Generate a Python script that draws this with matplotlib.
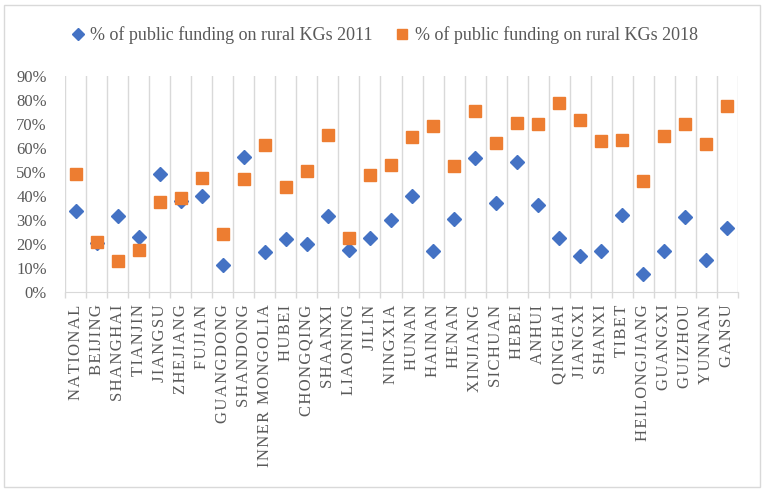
import matplotlib
matplotlib.use('Agg')
import matplotlib.pyplot as plt
from matplotlib.patches import Rectangle
from matplotlib.ticker import FixedLocator, FuncFormatter

regions = ['NATIONAL', 'BEIJING', 'SHANGHAI', 'TIANJIN', 'JIANGSU', 'ZHEJIANG',
           'FUJIAN', 'GUANGDONG', 'SHANDONG', 'INNER MONGOLIA', 'HUBEI',
           'CHONGQING', 'SHAANXI', 'LIAONING', 'JILIN', 'NINGXIA', 'HUNAN',
           'HAINAN', 'HENAN', 'XINJIANG', 'SICHUAN', 'HEBEI', 'ANHUI', 'QINGHAI',
           'JIANGXI', 'SHANXI', 'TIBET', 'HEILONGJIANG', 'GUANGXI', 'GUIZHOU',
           'YUNNAN', 'GANSU']
share_2011 = [33.8, 20.3, 31.8, 22.8, 49.0, 38.1, 40.0, 11.4, 56.4, 16.6, 22.2,
              20.1, 31.8, 17.4, 22.3, 29.8, 40.0, 16.9, 30.6, 55.9, 37.0, 54.1,
              36.4, 22.7, 14.8, 16.9, 32.0, 7.5, 16.9, 31.2, 13.2, 26.7]
share_2018 = [49.3, 21.0, 12.9, 17.4, 37.7, 39.0, 47.6, 24.1, 47.2, 61.2, 43.9,
              50.3, 65.6, 22.3, 48.6, 53.0, 64.4, 69.2, 52.6, 75.5, 62.2, 70.3,
              69.8, 78.9, 71.7, 63.0, 63.4, 46.2, 64.9, 69.8, 61.5, 77.3]

blue = '#4472C4'
orange = '#ED7D31'
grey_txt = '#595959'
grid_col = '#D9D9D9'
font = ['Liberation Serif', 'DejaVu Serif']

plt.rcParams['font.family'] = font

fig = plt.figure(figsize=(7.65, 4.94), dpi=100)
ax = fig.add_axes([65 / 765, 1 - 292 / 494, 673 / 765, 216 / 494])

x = list(range(len(regions)))
ax.plot(x, share_2011, linestyle='none', marker='D', ms=7.5, color=blue,
        label='% of public funding on rural KGs 2011', zorder=3)
ax.plot(x, share_2018, linestyle='none', marker='s', ms=8.5, color=orange,
        label='% of public funding on rural KGs 2018', zorder=3)

ax.set_xlim(-0.5, len(regions) - 0.5)
ax.set_ylim(0, 90)
ax.set_yticks(range(0, 91, 10))
ax.yaxis.set_major_formatter(FuncFormatter(lambda v, p: f'{int(v)}%'))
ax.tick_params(axis='y', length=0, labelsize=12, labelcolor=grey_txt, pad=13)

ax.set_xticks(x)
spaced = ['\u200a'.join(r) for r in regions]
ax.set_xticklabels(spaced, rotation=90, fontsize=12, color=grey_txt)
ax.tick_params(axis='x', which='major', length=0, pad=9)
bounds = [i - 0.5 for i in range(len(regions) + 1)]
ax.xaxis.set_minor_locator(FixedLocator(bounds))
ax.tick_params(axis='x', which='minor', length=4, color=grid_col, width=1)
ax.grid(axis='x', which='minor', color=grid_col, linewidth=1)

for s in ['top', 'right', 'left']:
    ax.spines[s].set_visible(False)
ax.spines['bottom'].set_color(grid_col)

ax.legend(loc='center', bbox_to_anchor=(385 / 765, 1 - 35 / 494),
          bbox_transform=fig.transFigure, ncol=2, frameon=False,
          fontsize=13, labelcolor=grey_txt, handlelength=0.6,
          handletextpad=0.4, columnspacing=1.3, markerscale=0.8)

fig.patches.append(Rectangle((4 / 765, 1 - 487 / 494), 756 / 765, 482 / 494,
                             transform=fig.transFigure, fill=False,
                             edgecolor=grid_col, linewidth=1))

fig.savefig('out.png', dpi=100)
